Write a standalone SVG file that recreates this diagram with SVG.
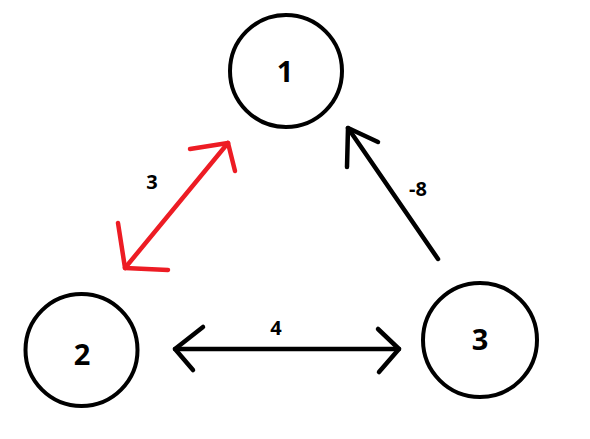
<svg xmlns="http://www.w3.org/2000/svg" width="590" height="439" viewBox="0 0 590 439">
<style>
.node circle{fill:#fff;stroke:#000;stroke-width:4}
.node text{font-family:"Open Sans","Liberation Sans",sans-serif;font-weight:bold;font-size:29px;text-anchor:middle;fill:#000}
.edge{fill:none;stroke-width:4.5;stroke-linecap:round;stroke-linejoin:round}
.lbl{font-family:"Open Sans","Liberation Sans",sans-serif;font-weight:bold;font-size:20px;text-anchor:middle;fill:#000}
</style>
<rect width="590" height="439" fill="#fff"/>
<g id="connectors">
<g id="e12" stroke="#ED1C24" class="edge">
<line x1="125" y1="268" x2="228" y2="143"/>
<polyline points="190,149 228,143 235,171"/>
<polyline points="118,223 125,268 168,270"/>
</g>
<g id="e31" stroke="#000" class="edge">
<line x1="438" y1="259" x2="348" y2="128"/>
<polyline points="378,142 348,128 347,167"/>
</g>
<g id="e23" stroke="#000" class="edge">
<line x1="175" y1="349" x2="399" y2="349"/>
<polyline points="203,327 175,349 193,370"/>
<polyline points="378,329 399,349 379,372"/>
</g>
<text class="lbl" x="152" y="189">3</text>
<text class="lbl" x="418" y="196">-8</text>
<text class="lbl" x="276" y="335">4</text>
</g>
<g id="node1" class="node"><circle cx="286" cy="71" r="56"/><text x="285" y="82">1</text></g>
<g id="node2" class="node"><circle cx="81.5" cy="350" r="56"/><text x="82" y="365">2</text></g>
<g id="node3" class="node"><circle cx="480" cy="340" r="57"/><text x="480" y="350">3</text></g>
</svg>
